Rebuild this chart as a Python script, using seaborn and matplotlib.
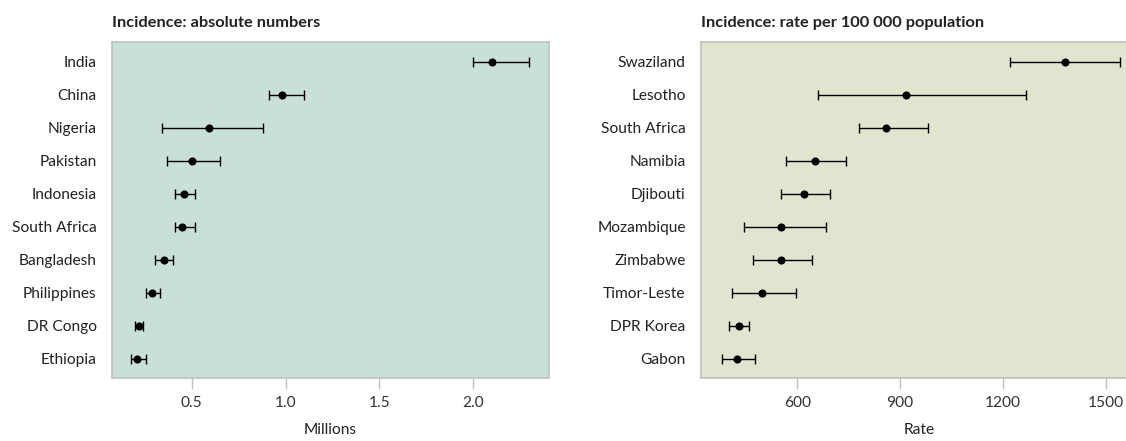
import numpy as np
import pandas as pd
import matplotlib
matplotlib.use("Agg")
import matplotlib.pyplot as plt
import seaborn as sns

# ---- data ----
abs_countries = ["India", "China", "Nigeria", "Pakistan", "Indonesia", "South Africa",
                 "Bangladesh", "Philippines", "DR Congo", "Ethiopia"]
abs_est = [2.10, 0.98, 0.59, 0.50, 0.46, 0.45, 0.35, 0.29, 0.22, 0.21]
abs_lo = [2.00, 0.91, 0.34, 0.37, 0.41, 0.41, 0.305, 0.257, 0.20, 0.178]
abs_hi = [2.30, 1.10, 0.88, 0.65, 0.52, 0.52, 0.40, 0.332, 0.24, 0.257]

rate_countries = ["Swaziland", "Lesotho", "South Africa", "Namibia", "Djibouti",
                  "Mozambique", "Zimbabwe", "Timor-Leste", "DPR Korea", "Gabon"]
rate_est = [1382, 917, 860, 652, 620, 552, 552, 498, 429, 424]
rate_lo = [1222, 660, 779, 567, 552, 443, 472, 410, 400, 379]
rate_hi = [1542, 1267, 980, 742, 696, 683, 643, 597, 458, 477]

abs_ticks = [0.5, 1.0, 1.5, 2.0]
abs_ticklabels = ["0.5", "1.0", "1.5", "2.0"]
rate_ticks = [600, 900, 1200, 1500]
rate_ticklabels = ["600", "900", "1200", "1500"]

sns.set_theme(style="white")
plt.rcParams["font.family"] = ["Lato", "DejaVu Sans"]

W, H = 1126, 441
fig = plt.figure(figsize=(W / 100, H / 100), dpi=100)

def panel(left_px, width_px, countries, est, lo, hi, bg, xlim, ticks, ticklabels, title, xlabel):
    ax = fig.add_axes([left_px / W, 1 - 378 / H, width_px / W, (378 - 42) / H])
    df = pd.DataFrame({"country": countries, "est": est, "lo": lo, "hi": hi})
    pos = np.arange(len(countries))
    ax.errorbar(df["est"], pos,
                xerr=[df["est"] - df["lo"], df["hi"] - df["est"]],
                fmt="none", ecolor="black", elinewidth=1.0, capsize=3.5, capthick=1.0, zorder=2)
    sns.scatterplot(data=df, x="est", y=pos, ax=ax, color="black", s=34,
                    edgecolor="black", linewidth=0, zorder=3, legend=False)
    ax.set_facecolor(bg)
    ax.set_xlim(*xlim)
    ax.set_ylim(len(countries) - 1 + 0.58, -0.6)
    ax.set_yticks(pos)
    ax.set_yticklabels(countries, fontsize=11.2, color="#222222")
    ax.set_xticks(ticks)
    ax.set_xticklabels(ticklabels, fontsize=11.2, color="#333333")
    ax.tick_params(axis="y", length=0, pad=11)
    ax.tick_params(axis="x", length=8, width=1, color="#c0c0c0", direction="out", pad=5, bottom=True)
    for s in ax.spines.values():
        s.set_color("#c0c0c0")
        s.set_linewidth(1.2)
    ax.set_xlabel(xlabel, fontsize=11.2, color="#222222", labelpad=9)
    ax.set_ylabel("")
    ax.set_title(title, loc="left", fontsize=11.8, fontweight="bold", color="#222222", pad=11)
    return ax

panel(112, 437, abs_countries, abs_est, abs_lo, abs_hi, "#c9dfda",
      (0.075, 2.404), abs_ticks, abs_ticklabels,
      "Incidence: absolute numbers", "Millions")
panel(701, 437, rate_countries, rate_est, rate_lo, rate_hi, "#e2e4cf",
      (319, 1594), rate_ticks, rate_ticklabels,
      "Incidence: rate per 100 000 population", "Rate")

fig.savefig("out.png", dpi=100)
